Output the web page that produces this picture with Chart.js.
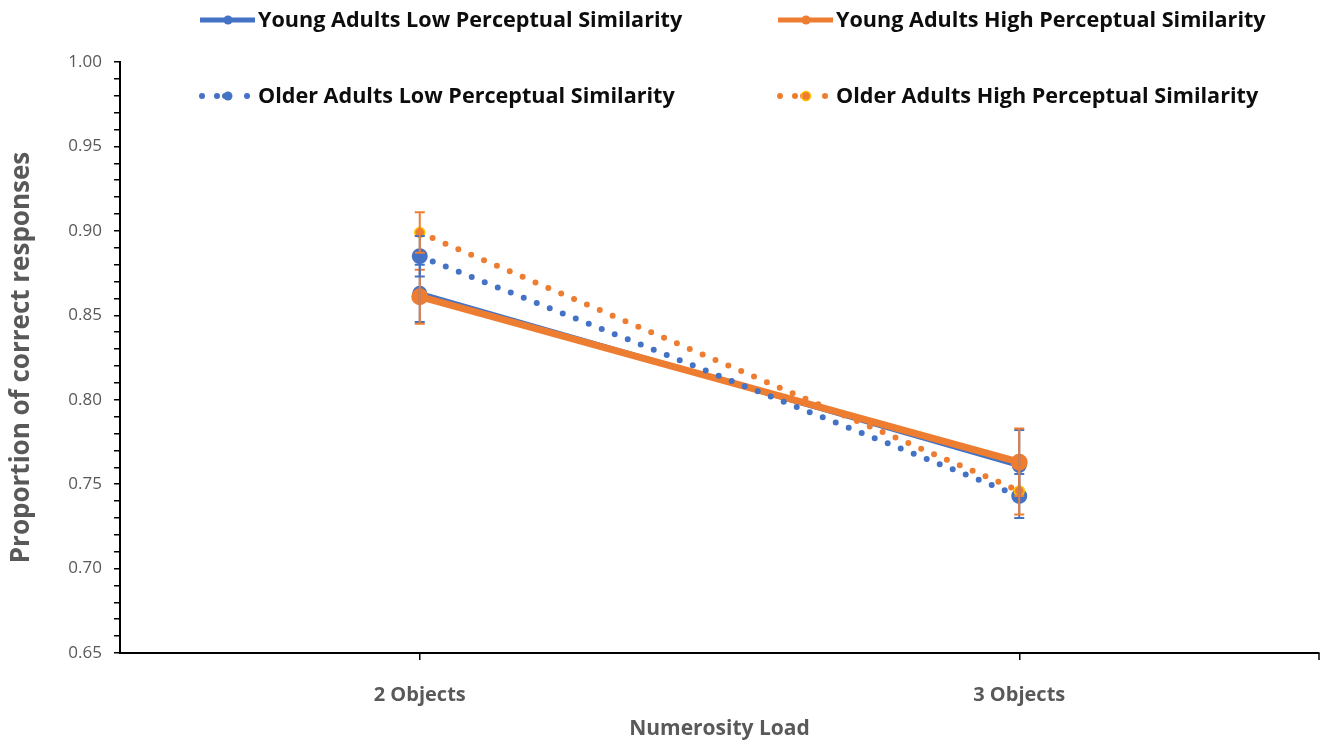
<!DOCTYPE html>
<html>
<head>
<meta charset="utf-8">
<script src="https://cdn.jsdelivr.net/npm/chart.js@4.4.0/dist/chart.umd.min.js"></script>
<style>
  body { margin: 0; background: #fff; overflow: hidden; }
  #wrap { width: 1324px; height: 746px; position: relative; }
</style>
</head>
<body>
<div id="wrap"><canvas id="numerosity-chart"></canvas></div>
<script>
// Categories and series
var categories = ['2 Objects', '3 Objects'];
var seriesNames = [
  'Young Adults Low Perceptual Similarity',
  'Young Adults High Perceptual Similarity',
  'Older Adults Low Perceptual Similarity',
  'Older Adults High Perceptual Similarity'
];
var youngLow = [0.863, 0.761];
var youngHigh = [0.861, 0.763];
var olderLow = [0.885, 0.743];
var olderHigh = [0.899, 0.746];

// error bars (+/- half width)
var youngLowErr = [0.017, 0.021];
var youngHighErr = [0.016, 0.020];
var olderLowErr = [0.012, 0.013];
var olderHighErr = [0.012, 0.014];

var yMin = 0.65, yMax = 1.00, yStep = 0.01;

var BLUE = '#4472C4';
var ORANGE = '#ED7D31';
var GREY = '#595959';
var FONT = '"Open Sans", Lato, sans-serif';

// draws error bars and the custom legend
var errorBarPlugin = {
  id: 'errorBars',
  afterDatasetsDraw: function(chart) {
    var ctx = chart.ctx;
    var yScale = chart.scales.y;
    var xScale = chart.scales.x;
    chart.data.datasets.forEach(function(ds) {
      ctx.save();
      ctx.strokeStyle = ds.borderColor;
      ctx.lineWidth = 2;
      ds.data.forEach(function(v, j) {
        var x = xScale.getPixelForValue(j);
        var top = yScale.getPixelForValue(v + ds.errors[j]);
        var bot = yScale.getPixelForValue(v - ds.errors[j]);
        ctx.beginPath();
        ctx.moveTo(x, top); ctx.lineTo(x, bot);
        ctx.moveTo(x - 5, top); ctx.lineTo(x + 5, top);
        ctx.moveTo(x - 5, bot); ctx.lineTo(x + 5, bot);
        ctx.stroke();
      });
      ctx.restore();
    });
  },
  afterDraw: function(chart) {
    var ctx = chart.ctx;
    var area = chart.chartArea;
    // closing tick at the right end of the category axis
    ctx.save();
    ctx.strokeStyle = '#000';
    ctx.lineWidth = 1.5;
    ctx.beginPath();
    ctx.moveTo(area.right, area.bottom);
    ctx.lineTo(area.right, area.bottom + 7);
    ctx.stroke();
    ctx.restore();

    var spots = [[200, 20], [778, 20], [200, 96], [778, 96]];
    chart.data.datasets.forEach(function(ds, i) {
      var x = spots[i][0], y = spots[i][1];
      ctx.save();
      ctx.strokeStyle = ds.borderColor;
      ctx.fillStyle = ds.borderColor;
      if (ds.borderDash && ds.borderDash.length) {
        [2, 17, 25, 47].forEach(function(dx) {
          ctx.beginPath(); ctx.arc(x + dx, y, 3, 0, Math.PI * 2); ctx.fill();
        });
      } else {
        ctx.lineWidth = 5;
        ctx.beginPath(); ctx.moveTo(x, y); ctx.lineTo(x + 55, y); ctx.stroke();
      }
      ctx.beginPath();
      ctx.arc(x + 28, y, 4.5, 0, Math.PI * 2);
      ctx.fillStyle = ds.pointBackgroundColor;
      ctx.fill();
      if (ds.pointBorderColor !== ds.borderColor) {
        ctx.lineWidth = 1.5; ctx.strokeStyle = ds.pointBorderColor; ctx.stroke();
      }
      ctx.fillStyle = '#0d0d0d';
      ctx.font = 'bold 21.6px ' + FONT;
      ctx.textBaseline = 'middle';
      ctx.fillText(ds.label, x + 58, y + 1);
      ctx.restore();
    });
  }
};

var ctx = document.getElementById('numerosity-chart').getContext('2d');
var chart = new Chart(ctx, {
  type: 'line',
  data: {
    labels: categories,
    datasets: [
      {
        label: seriesNames[0], data: youngLow, errors: youngLowErr,
        borderColor: BLUE, backgroundColor: BLUE, borderWidth: 5,
        pointBackgroundColor: BLUE, pointBorderColor: BLUE, pointRadius: 5, order: 4
      },
      {
        label: seriesNames[1], data: youngHigh, errors: youngHighErr,
        borderColor: ORANGE, backgroundColor: ORANGE, borderWidth: 7,
        pointBackgroundColor: ORANGE, pointBorderColor: ORANGE, pointRadius: 5, order: 3
      },
      {
        label: seriesNames[2], data: olderLow, errors: olderLowErr,
        borderColor: BLUE, backgroundColor: BLUE, borderWidth: 6,
        borderDash: [0, 14], borderCapStyle: 'round',
        pointBackgroundColor: BLUE, pointBorderColor: BLUE, pointRadius: 5, order: 2
      },
      {
        label: seriesNames[3], data: olderHigh, errors: olderHighErr,
        borderColor: ORANGE, backgroundColor: ORANGE, borderWidth: 6,
        borderDash: [0, 14], borderCapStyle: 'round',
        pointBackgroundColor: ORANGE, pointBorderColor: '#FFC000', pointBorderWidth: 1.5,
        pointRadius: 5, order: 1
      }
    ]
  },
  options: {
    responsive: true,
    maintainAspectRatio: false,
    animation: false,
    layout: { autoPadding: false, padding: { top: 62, right: 5, left: 0, bottom: 0 } },
    plugins: {
      legend: { display: false },
      tooltip: { enabled: false }
    },
    scales: {
      x: {
        type: 'category',
        offset: true,
        grid: { display: true, drawOnChartArea: false, offset: false, color: '#000', tickLength: 7, lineWidth: 1.5 },
        border: { display: true, color: '#000', width: 2 },
        ticks: { color: GREY, font: { family: FONT, size: 20, weight: 'bold' }, padding: 23 },
        title: { display: true, text: 'Numerosity Load', color: GREY, font: { family: FONT, size: 21, weight: 'bold' }, padding: { top: 17 } },
        afterFit: function(scale) {
          scale.height = 93;
          scale.paddingLeft = 0;
          scale.paddingRight = 0;
        }
      },
      y: {
        min: yMin, max: yMax,
        grid: { display: true, drawOnChartArea: false, color: '#000', tickLength: 6, lineWidth: 1.5 },
        border: { display: true, color: '#000', width: 2 },
        ticks: {
          stepSize: yStep, color: GREY, autoSkip: false, padding: 12,
          font: { family: FONT, size: 17 },
          callback: function(v) {
            var r = Math.round(v * 100);
            return r % 5 === 0 ? (r / 100).toFixed(2) : '';
          }
        },
        title: { display: true, text: 'Proportion of correct responses', color: GREY, font: { family: FONT, size: 26, weight: 'bold' }, padding: { top: 6, bottom: 30 } },
        afterFit: function(scale) { scale.width = 120; }
      }
    }
  },
  plugins: [errorBarPlugin]
});
</script>
</body>
</html>
